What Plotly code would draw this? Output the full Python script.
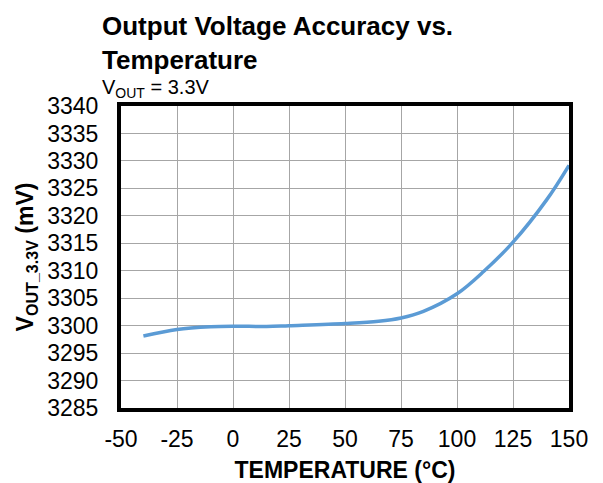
import plotly.graph_objects as go

temperature_c = [-40, -25, -10, 0, 15, 25, 50, 65, 75, 85, 100, 112, 125, 140, 150]
vout_mv = [3298.1, 3299.3, 3299.8, 3299.9, 3299.85, 3300.0, 3300.4, 3300.8, 3301.4,
           3302.6, 3305.8, 3309.9, 3315.2, 3322.9, 3329.2]
x_ticks = [-50, -25, 0, 25, 50, 75, 100, 125, 150]
y_ticks = list(range(3285, 3341, 5))

FONT = "Liberation Sans, Arial, sans-serif"

fig = go.Figure()
fig.add_trace(go.Scatter(
    x=temperature_c, y=vout_mv, mode="lines",
    line=dict(color="#5B9BD5", width=3.5, shape="spline", smoothing=1.0),
    showlegend=False, hoverinfo="skip",
))

# page body adds an 8px offset; margins compensate for it
fig.update_layout(
    width=595, height=475,
    margin=dict(l=113, r=34, t=98, b=75, autoexpand=False),
    paper_bgcolor="white", plot_bgcolor="white",
    font=dict(family=FONT, size=23, color="black"),
    xaxis=dict(
        range=[-50, 150], tickvals=x_ticks, ticktext=[str(v) for v in x_ticks],
        showgrid=True, gridcolor="#A6A6A6", gridwidth=1,
        showline=True, linecolor="black", linewidth=4, mirror=True,
        ticks="outside", ticklen=7, tickcolor="rgba(0,0,0,0)",
        zeroline=False, tickfont=dict(size=23), automargin=False,
        title=dict(text="<b>TEMPERATURE (°C)</b>", font=dict(size=23), standoff=12),
    ),
    yaxis=dict(
        range=[3285, 3340], tickvals=y_ticks, ticktext=[str(v) for v in y_ticks],
        showgrid=True, gridcolor="#A6A6A6", gridwidth=1,
        showline=True, linecolor="black", linewidth=4, mirror=True,
        ticks="outside", ticklen=14, tickcolor="rgba(0,0,0,0)",
        zeroline=False, tickfont=dict(size=23), automargin=False,
        title=dict(text="<b>V<sub>OUT_3.3V</sub> (mV)</b>", font=dict(size=23), standoff=8),
    ),
    annotations=[
        dict(text="<b>Output Voltage Accuracy vs.<br>Temperature</b>",
             xref="paper", yref="paper", x=-0.047, y=1.21,
             xanchor="left", yanchor="middle", align="left",
             showarrow=False, font=dict(size=26, family=FONT)),
        dict(text="V<sub>OUT</sub> = 3.3V",
             xref="paper", yref="paper", x=-0.047, y=1.0596,
             xanchor="left", yanchor="middle", align="left",
             showarrow=False, font=dict(size=20, family=FONT)),
    ],
)

fig.write_html("out.html")
